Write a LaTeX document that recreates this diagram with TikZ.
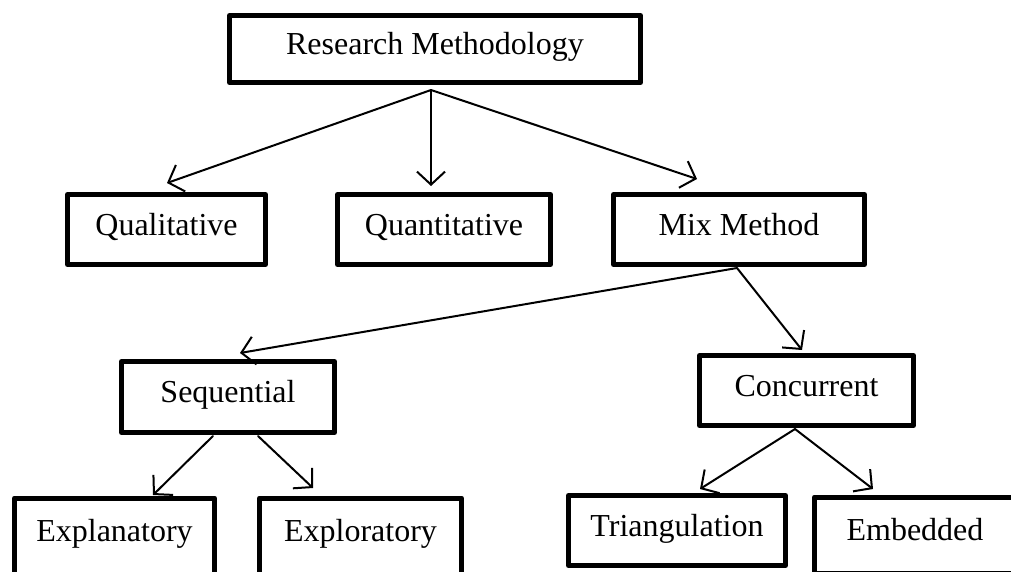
\documentclass[tikz,border=0pt]{standalone}
\usepackage{fontspec}
\setmainfont{Liberation Serif}
\usetikzlibrary{arrows.meta}
\tikzset{
  box/.style={draw=black, line width=5pt, line join=round, fill=white, inner sep=0pt,
              text height=21pt, text depth=10pt,
              font=\fontsize{32}{38}\selectfont},
  arr/.style={line width=2pt, line cap=round, -{Straight Barb[length=13pt,width=28pt]}}
}
\begin{document}
\begin{tikzpicture}[x=1pt,y=-1pt]
\useasboundingbox (0,0) rectangle (1011,571);
\clip (0,0) rectangle (1011,571);
% arrow start / end coordinates
\coordinate (rmA) at (431,90);
\coordinate (mixA) at (737,268);
\coordinate (seqL) at (213,436);
\coordinate (seqR) at (258,436);
\coordinate (concA) at (795,429);
\coordinate (tQual) at (167,183);
\coordinate (tQuant) at (431,186);
\coordinate (tMix) at (697,179);
\coordinate (tSeq) at (240,353);
\coordinate (tConc) at (802,350);
\coordinate (tExpn) at (153,495);
\coordinate (tExpl) at (313,488);
\coordinate (tTri) at (700,489);
\coordinate (tEmb) at (873,489);
% nodes
\node[box, minimum width=411pt, minimum height=67pt] (rm) at (435,49) {Research Methodology};
\node[box, minimum width=198pt, minimum height=70pt] (qual) at (166.5,229.5) {Qualitative};
\node[box, minimum width=213pt, minimum height=70pt] (quant) at (444,229.5) {Quantitative};
\node[box, minimum width=251pt, minimum height=70pt] (mix) at (739,229.5) {Mix Method};
\node[box, minimum width=213pt, minimum height=71pt] (seq) at (228,397) {Sequential};
\node[box, minimum width=214pt, minimum height=70pt] (conc) at (806.5,390.5) {Concurrent};
\node[box, minimum width=200pt, minimum height=76pt] (expn) at (114.5,536) {Explanatory};
\node[box, minimum width=202pt, minimum height=76pt] (expl) at (360.5,536) {Exploratory};
\node[box, minimum width=217pt, minimum height=70pt] (tri) at (677,530.5) {Triangulation};
\node[box, minimum width=201pt, minimum height=76pt] (emb) at (915,535) {Embedded};
% connectors
\draw[arr] (rmA) -- (tQual);
\draw[arr] (rmA) -- (tQuant);
\draw[arr] (rmA) -- (tMix);
\draw[arr] (mixA) -- (tSeq);
\draw[arr] (mixA) -- (tConc);
\draw[arr] (seqL) -- (tExpn);
\draw[arr] (seqR) -- (tExpl);
\draw[arr] (concA) -- (tTri);
\draw[arr] (concA) -- (tEmb);
\end{tikzpicture}
\end{document}
